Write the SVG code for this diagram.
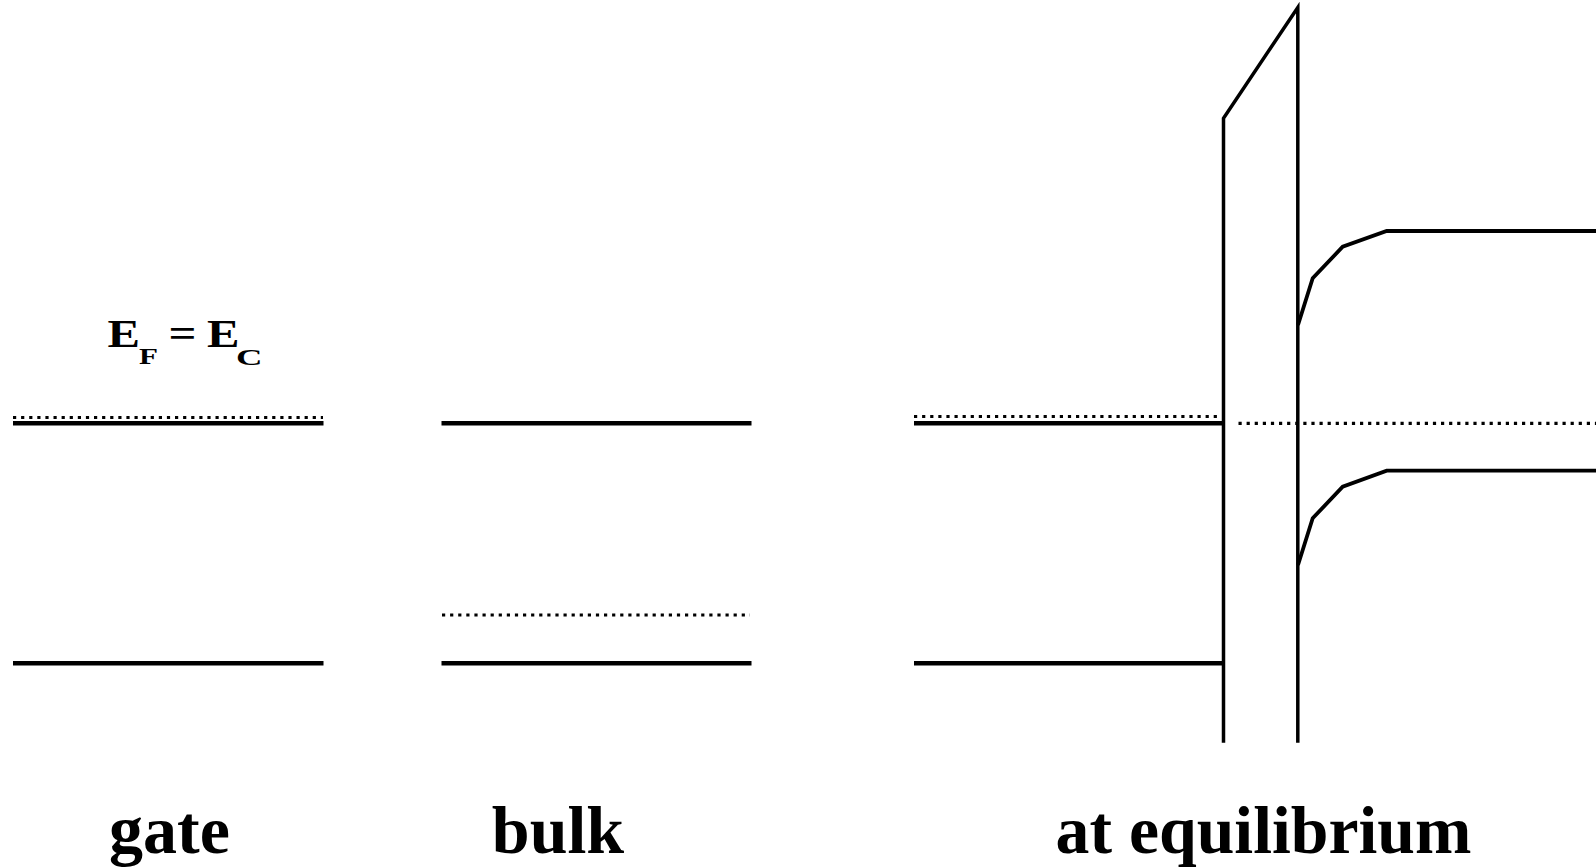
<svg xmlns="http://www.w3.org/2000/svg" width="1596" height="867" viewBox="0 0 1596 867">
<style>
.band{stroke:#000;stroke-width:4.5;fill:none}
.fermi{stroke:#000;stroke-width:3.2;stroke-dasharray:3.2 4.9;fill:none}
.wall{stroke:#000;stroke-width:3.5;fill:none;stroke-linejoin:miter}
.curve{stroke:#000;stroke-width:3.8;fill:none;stroke-linejoin:miter}
.lbl{font-family:"Liberation Serif","Times New Roman",serif;font-weight:bold;font-size:68px;fill:#000}
.eq{font-family:"Liberation Serif","Times New Roman",serif;font-weight:bold;fill:#000}
</style>
<rect width="1596" height="867" fill="#fff"/>
<g id="gate">
<line class="fermi" x1="13" y1="417.5" x2="323" y2="417.5"/>
<line class="band" x1="13" y1="423.3" x2="323.5" y2="423.3"/>
<line class="band" x1="13" y1="663.3" x2="323.5" y2="663.3"/>
<g id="gate-label-EF-EC">
<text class="eq" x="107.5" y="347" font-size="40" textLength="32.5" lengthAdjust="spacingAndGlyphs">E</text>
<text class="eq" x="139" y="363.5" font-size="23" textLength="19" lengthAdjust="spacingAndGlyphs">F</text>
<text class="eq" x="168.5" y="347" font-size="40" textLength="28" lengthAdjust="spacingAndGlyphs">=</text>
<text class="eq" x="207" y="347" font-size="40" textLength="32.5" lengthAdjust="spacingAndGlyphs">E</text>
<text class="eq" x="236" y="365" font-size="23" textLength="26.5" lengthAdjust="spacingAndGlyphs">C</text>
</g>
<text class="lbl" x="169.5" y="853" text-anchor="middle">gate</text>
</g>
<g id="bulk">
<line class="band" x1="441.5" y1="423.3" x2="751.5" y2="423.3"/>
<line class="fermi" x1="442" y1="615" x2="750" y2="615"/>
<line class="band" x1="441.5" y1="663.3" x2="751.5" y2="663.3"/>
<text class="lbl" x="558" y="853" text-anchor="middle">bulk</text>
</g>
<g id="equilibrium">
<line class="fermi" x1="914" y1="416.5" x2="1221.5" y2="416.5"/>
<line class="band" x1="914" y1="423.3" x2="1223.5" y2="423.3"/>
<line class="band" x1="914" y1="663.3" x2="1223.5" y2="663.3"/>
<polyline class="wall" points="1223.5,742.7 1223.5,118.3 1297.8,7.5 1297.8,742.7"/>
<line class="fermi" x1="1238.5" y1="423.3" x2="1596" y2="423.3"/>
<polyline class="curve" points="1298,325 1312.7,278.3 1342.7,246.7 1386.7,231 1596,231"/>
<polyline class="curve" points="1298,565 1312.7,518.3 1342.7,486.7 1386.7,470.7 1596,470.7"/>
<text class="lbl" x="1263.5" y="853" text-anchor="middle" textLength="416" lengthAdjust="spacingAndGlyphs">at equilibrium</text>
</g>
</svg>
